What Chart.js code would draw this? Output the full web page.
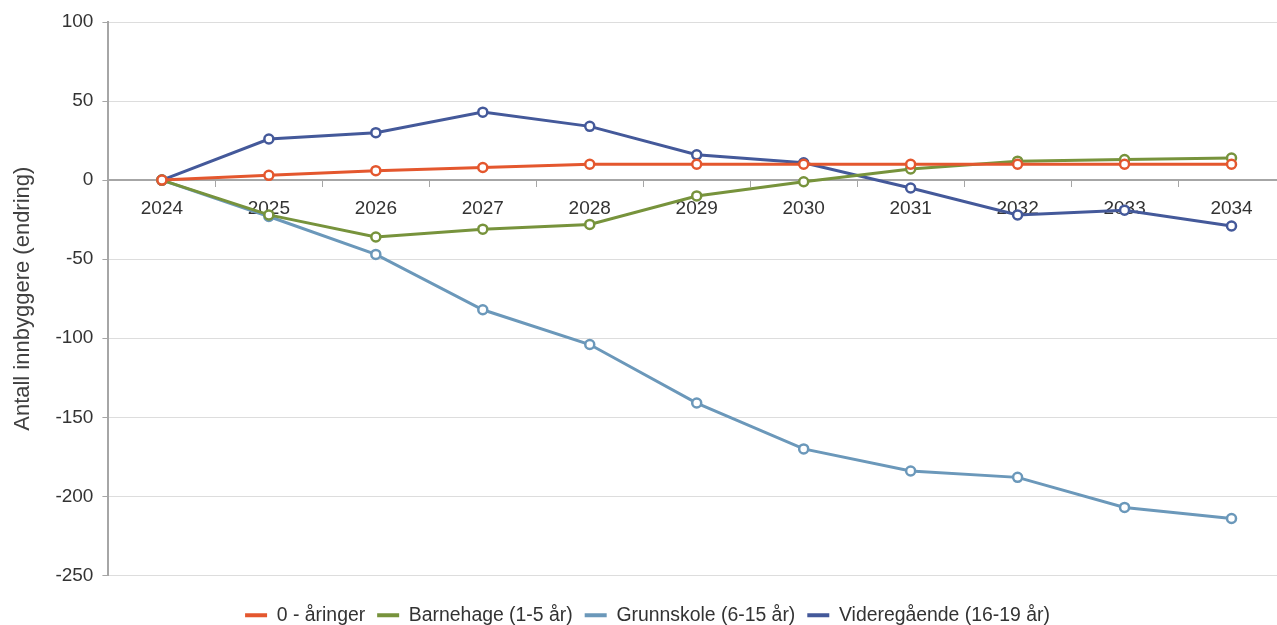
<!DOCTYPE html>
<html>
<head>
<meta charset="utf-8">
<script src="https://cdn.jsdelivr.net/npm/chart.js@4/dist/chart.umd.min.js"></script>
<style>
  html, body { margin: 0; padding: 0; background: #fff; overflow: hidden; }
  #wrap { width: 1296px; height: 635px; }
</style>
</head>
<body>
<div id="wrap"><canvas id="chartBefolkning"></canvas></div>
<script>
const years = ['2024', '2025', '2026', '2027', '2028', '2029', '2030', '2031', '2032', '2033', '2034'];
const aaringer = [0, 3, 6, 8, 10, 10, 10, 10, 10, 10, 10];
const barnehage = [0, -22, -36, -31, -28, -10, -1, 7, 12, 13, 14];
const grunnskole = [0, -23, -47, -82, -104, -141, -170, -184, -188, -207, -214];
const videregaende = [0, 26, 30, 43, 34, 16, 11, -5, -22, -19, -29];
const yTicks = [100, 50, 0, -50, -100, -150, -200, -250];

const fontFam = '"Liberation Sans", Arial, sans-serif';

function serie(label, data, color) {
    return {
        label: label,
        data: data,
        borderColor: color,
        backgroundColor: color,
        pointBackgroundColor: '#ffffff',
        pointBorderColor: color,
        pointBorderWidth: 2.5,
        pointRadius: 4.5,
        borderWidth: 3,
        tension: 0
    };
}

const ctx = document.getElementById('chartBefolkning').getContext('2d');
new Chart(ctx, {
    type: 'line',
    data: {
        labels: years,
        datasets: [
            serie('0 - åringer', aaringer, '#e4572e'),
            serie('Barnehage (1-5 år)', barnehage, '#77933c'),
            serie('Grunnskole (6-15 år)', grunnskole, '#6b98ba'),
            serie('Videregående (16-19 år)', videregaende, '#44599a')
        ]
    },
    options: {
        responsive: true,
        maintainAspectRatio: false,
        animation: false,
        layout: { autoPadding: false, padding: { top: 22, right: 11, left: 10, bottom: 0 } },
        scales: {
            x: {
                position: { y: 0 },
                offset: true,
                grid: { offset: true, drawOnChartArea: false, drawTicks: true, tickLength: 6, color: '#a6a6a6' },
                border: { color: '#a6a6a6', width: 2 },
                ticks: { color: '#333333', font: { family: fontFam, size: 19 }, padding: 11, maxRotation: 0 }
            },
            y: {
                min: -250,
                max: 100,
                afterBuildTicks: axis => { axis.ticks = yTicks.map(v => ({ value: v })); },
                grid: { color: '#dddddd', tickLength: 6, tickColor: '#a6a6a6' },
                border: { color: '#a6a6a6', width: 2 },
                ticks: { color: '#333333', font: { family: fontFam, size: 19 }, padding: 9 },
                title: {
                    display: true,
                    text: 'Antall innbyggere (endring)',
                    color: '#404040',
                    font: { family: fontFam, size: 22 },
                    padding: { top: 0, bottom: 10 }
                }
            }
        },
        plugins: {
            legend: {
                position: 'bottom',
                // empty title used only as spacer above the legend row
                title: { display: true, text: '', font: { size: 1 }, padding: { top: 17, bottom: 0 } },
                labels: {
                    color: '#333333',
                    font: { family: fontFam, size: 19.4 },
                    boxWidth: 22,
                    boxHeight: 4,
                    padding: 12,
                    generateLabels: chart => Chart.defaults.plugins.legend.labels.generateLabels(chart)
                        .map(l => Object.assign(l, { lineWidth: 0 }))
                }
            },
            tooltip: { enabled: false }
        }
    }
});
</script>
</body>
</html>
